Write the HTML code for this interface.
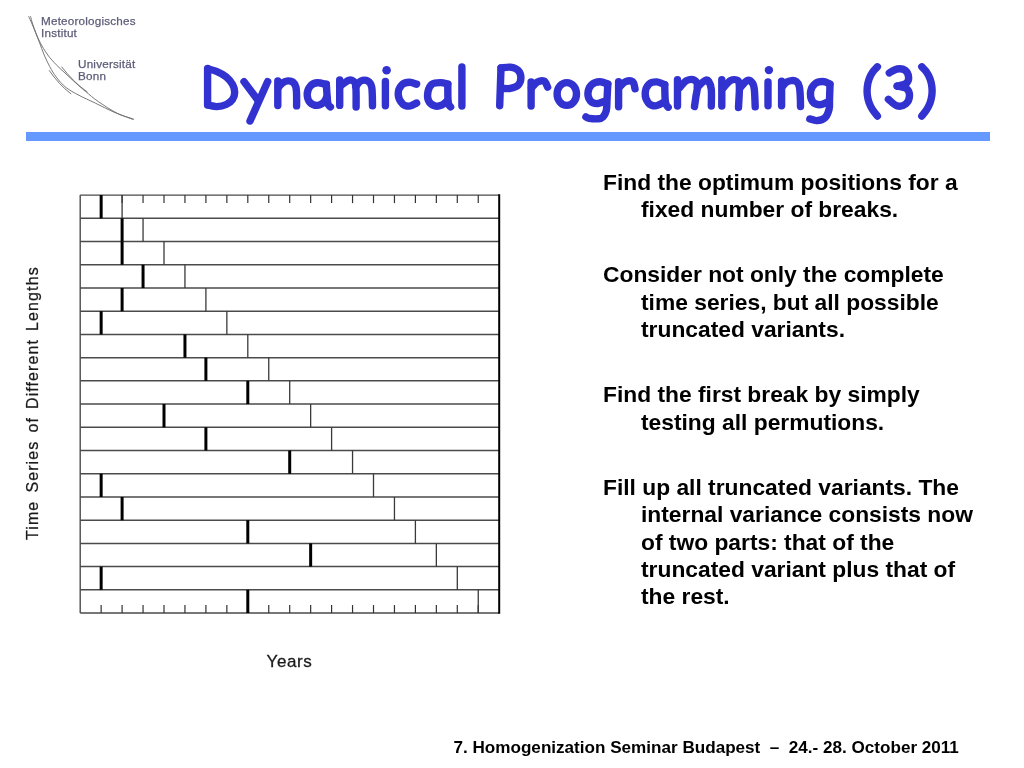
<!DOCTYPE html>
<html><head><meta charset="utf-8">
<style>
html,body{margin:0;padding:0;background:#fff;}
body{width:1024px;height:768px;position:relative;overflow:hidden;font-family:"Liberation Sans",sans-serif;}
.a{position:absolute;white-space:nowrap;}
.logo{color:#5c5c78;-webkit-text-stroke:0.25px #5c5c78;font-size:11.7px;line-height:12.2px;letter-spacing:0.2px;will-change:transform;}
.title{top:53.2px;font-size:63px;line-height:70px;font-weight:bold;color:#3333cc;transform-origin:0 0;}
.rule{left:25.7px;top:132.1px;width:964.3px;height:8.6px;background:#6699ff;}
.p{font-size:22.8px;line-height:27.3px;font-weight:bold;color:#000;left:603px;padding-left:38px;text-indent:-38px;}
.foot{left:453.5px;top:737.5px;font-size:17.1px;line-height:20px;font-weight:bold;color:#000;}
.ylab{font-size:16px;line-height:18px;color:#1a1a1a;-webkit-text-stroke:0.25px #1a1a1a;letter-spacing:1.1px;word-spacing:2.5px;transform-origin:0 0;transform:rotate(-90deg);}
.years{left:266.5px;top:653.2px;font-size:17px;line-height:18px;color:#1a1a1a;letter-spacing:0.6px;-webkit-text-stroke:0.3px #1a1a1a;}
</style></head><body>
<div class="a logo" style="left:41.4px;top:14.5px;">Meteorologisches<br>Institut</div>
<div class="a logo" style="left:77.8px;top:57.5px;">Universität<br>Bonn</div>
<svg width="1024" height="768" style="position:absolute;left:0;top:0">
<g fill="none" stroke="#6a6a6a" stroke-width="0.9">
<path d="M28.6,16.2 C29.2,17.7 30.8,20.8 32.5,25.0 C34.2,29.2 37.0,36.3 39.0,41.3 C41.0,46.3 42.4,50.8 44.2,55.0 C46.0,59.2 47.8,63.0 49.8,66.7 C51.8,70.4 53.6,73.6 56.3,77.1 C59.0,80.6 62.2,84.5 66.0,87.5 C69.8,90.5 74.1,92.7 79.0,95.3 C83.9,97.9 89.5,100.3 95.3,103.1 C101.1,105.9 107.4,109.3 113.8,112.1 C120.2,114.9 130.4,118.4 133.7,119.7"/>
<path d="M30.5,16.2 C30.9,17.7 31.5,20.8 33.0,25.0 C34.5,29.2 37.0,36.3 39.5,41.3 C42.0,46.3 45.0,51.1 47.8,55.0 C50.6,58.9 53.3,61.6 56.3,64.8 C59.3,68.0 62.8,70.9 66.0,73.9 C69.2,76.9 72.5,80.1 75.8,83.0 C79.0,85.9 81.7,88.3 85.5,91.4 C89.3,94.5 93.3,98.2 98.6,101.8 C103.9,105.4 111.5,110.4 117.3,113.3 C123.1,116.2 131.0,118.1 133.7,119.1"/>
<path d="M49.1,70.3 C56,80 62,87 71.2,94"/>
<path d="M61.5,66.7 C69,76 77,85 87.5,92.1"/>
</g>
</svg>
<svg width="1024" height="140" style="position:absolute;left:0;top:0">
<g fill="none" stroke="#3232d0" stroke-width="7.4" stroke-linecap="round" stroke-linejoin="round">
<path d="M207.6,68.5 L207.6,105.0"/>
<path d="M208.0,68.9 C209.4,69.3 213.5,70.1 216.5,71.4 C219.5,72.7 223.5,74.7 226.2,76.9 C228.9,79.1 231.2,82.0 232.6,84.6 C234.0,87.1 234.7,89.7 234.7,92.2 C234.7,94.7 234.0,97.4 232.6,99.4 C231.2,101.5 228.8,103.3 226.2,104.5 C223.6,105.7 219.9,106.5 216.9,106.6 C213.9,106.7 209.5,105.2 208.0,104.9"/>
<path d="M244.0,81.6 L257.6,99.8"/>
<path d="M267.7,81.6 L250.0,121.0"/>
<path d="M277.8,80.9 L277.8,105.5"/>
<path d="M278.6,87.2 C279.3,86.4 281.4,83.6 283.0,82.6 C284.6,81.5 286.4,81.0 288.0,80.9 C289.6,80.8 291.5,81.0 292.8,82.0 C294.1,83.0 295.2,84.6 295.8,86.8 C296.4,89.0 296.5,91.8 296.6,95.0 C296.7,98.2 296.6,104.1 296.6,105.9"/>
<path d="M326.3,84.1 C326.5,86.9 327.1,97.5 327.5,101.0 C327.9,104.5 328.1,104.2 328.6,105.2 C329.1,106.2 330.1,106.6 330.4,106.9"/>
<path d="M326.3,84.5 C324.8,84.2 319.7,82.5 317.0,82.8 C314.3,83.1 311.6,84.5 310.0,86.5 C308.4,88.5 307.2,91.8 307.2,94.5 C307.2,97.2 308.4,100.7 310.0,102.5 C311.6,104.3 314.8,105.4 317.0,105.4 C319.2,105.4 321.9,103.9 323.5,102.5 C325.1,101.1 326.2,97.9 326.8,97.0"/>
<path d="M339.7,80.0 L339.7,105.4"/>
<path d="M341.2,85.4 C342.4,84.6 346.3,81.2 348.3,80.5 C350.3,79.8 351.8,80.0 353.0,80.9 C354.2,81.8 355.3,81.7 355.8,86.0 C356.3,90.3 356.1,103.5 356.1,107.0"/>
<path d="M355.8,86.5 C356.6,85.6 358.8,81.9 360.8,81.0 C362.8,80.1 366.0,80.0 367.8,81.0 C369.6,82.0 370.9,82.9 371.7,87.0 C372.5,91.1 372.4,102.6 372.5,105.8"/>
<path d="M385.4,81.5 L385.4,105.8"/>
<path d="M416.6,84.2 C415.4,83.9 412.0,82.2 409.5,82.3 C407.0,82.4 403.6,83.0 401.7,85.0 C399.8,87.0 398.1,91.3 398.2,94.4 C398.3,97.5 400.6,101.8 402.5,103.8 C404.4,105.7 407.1,106.2 409.5,106.1 C411.9,106.0 415.4,103.5 416.6,103.0"/>
<path d="M447.8,84.2 C447.8,86.8 447.8,96.6 448.0,100.0 C448.2,103.4 448.4,103.3 448.8,104.5 C449.2,105.7 450.3,106.5 450.6,106.9"/>
<path d="M447.8,84.2 C446.6,83.9 443.4,82.6 440.8,82.6 C438.2,82.6 434.3,82.5 432.2,84.0 C430.1,85.5 428.6,88.7 428.0,91.5 C427.4,94.3 427.4,98.2 428.5,100.6 C429.6,103.0 432.3,105.0 434.5,105.8 C436.7,106.6 439.5,106.1 441.6,105.2 C443.8,104.3 446.4,101.4 447.4,100.6"/>
<path d="M461.9,67.0 L461.9,106.1"/>
<path d="M501.0,68.0 L499.7,105.7"/>
<path d="M501.0,68.0 C502.6,67.9 507.5,66.8 510.3,67.2 C513.1,67.6 516.1,68.4 517.9,70.2 C519.7,72.0 520.9,75.3 520.9,77.8 C520.9,80.3 519.7,83.6 517.9,85.4 C516.1,87.2 512.8,87.9 510.3,88.4 C507.8,88.9 504.0,88.4 502.7,88.4"/>
<path d="M531.1,82.0 L531.1,106.1"/>
<path d="M531.5,87.9 C532.5,86.9 535.3,83.1 537.4,82.0 C539.5,80.9 542.5,80.4 544.2,81.2 C545.9,82.0 547.0,86.1 547.6,87.1"/>
<path d="M607.8,84.1 C607.7,86.8 607.2,95.6 607.0,100.0 C606.8,104.4 607.0,107.8 606.3,110.6 C605.6,113.4 604.3,115.6 603.0,117.0 C601.7,118.4 600.7,118.6 598.4,118.8 C596.1,119.0 591.2,118.7 589.1,118.4 C587.0,118.1 586.4,117.2 585.9,116.9"/>
<path d="M607.8,84.1 C606.5,83.7 602.7,81.6 600.0,81.7 C597.3,81.8 593.4,82.8 591.4,84.8 C589.4,86.8 588.0,90.7 587.9,93.4 C587.8,96.1 589.1,99.5 590.6,101.2 C592.1,103.0 594.5,103.6 596.9,103.6 C599.2,103.6 603.4,101.6 604.7,101.2"/>
<path d="M618.6,81.7 L618.6,106.7"/>
<path d="M619.4,87.2 C620.4,86.3 623.4,82.6 625.6,81.7 C627.8,80.8 631.1,80.5 632.7,81.7 C634.3,82.9 634.6,87.6 635.0,88.8"/>
<path d="M664.7,84.8 C664.8,87.3 664.9,96.7 665.2,100.0 C665.5,103.3 665.8,103.6 666.3,104.8 C666.8,106.0 667.9,106.8 668.2,107.2"/>
<path d="M664.7,84.8 C663.4,84.3 659.5,82.0 656.9,81.9 C654.3,81.8 651.0,82.2 649.0,84.1 C647.0,86.0 645.3,90.3 645.2,93.4 C645.1,96.5 646.6,100.7 648.3,102.8 C650.0,104.9 652.8,105.9 655.3,105.9 C657.8,105.9 661.8,103.3 663.1,102.8"/>
<path d="M677.5,79.7 L677.5,106.0"/>
<path d="M679.7,87.6 C680.9,86.4 684.2,81.7 686.7,80.5 C689.2,79.3 692.8,79.3 694.6,80.2 C696.4,81.1 697.3,83.4 697.5,86.0 C697.7,88.6 696.5,92.6 696.0,96.0 C695.5,99.4 694.8,104.8 694.5,106.5"/>
<path d="M697.5,87.0 C698.8,85.9 703.2,81.4 705.1,80.5 C707.0,79.6 707.7,79.9 708.7,81.4 C709.7,82.9 710.9,85.2 711.3,89.3 C711.7,93.4 711.3,103.2 711.3,106.0"/>
<path d="M721.8,79.7 L721.8,106.0"/>
<path d="M723.6,87.6 C724.8,86.4 728.2,81.7 730.6,80.5 C733.0,79.3 736.2,79.3 737.7,80.5 C739.2,81.7 739.3,83.1 739.4,87.6 C739.5,92.1 738.6,104.2 738.5,107.5"/>
<path d="M740.3,87.6 C741.5,86.4 745.2,81.2 747.3,80.5 C749.3,79.8 751.4,81.6 752.6,83.2 C753.8,84.8 754.0,86.2 754.4,90.2 C754.8,94.2 755.1,104.1 755.2,106.9"/>
<path d="M768.0,82.0 L768.0,105.7"/>
<path d="M781.6,81.1 L781.6,105.7"/>
<path d="M782.5,86.4 C783.2,85.7 785.0,83.2 786.5,82.2 C788.0,81.2 789.8,80.7 791.5,80.6 C793.2,80.5 795.2,80.6 796.5,81.6 C797.8,82.6 798.7,84.4 799.3,86.6 C799.9,88.8 800.0,91.7 800.2,95.0 C800.4,98.3 800.5,104.7 800.5,106.6"/>
<path d="M830.0,85.5 C829.9,87.9 829.6,96.0 829.5,100.0 C829.4,104.0 829.9,106.2 829.1,109.2 C828.3,112.2 826.8,116.1 824.7,118.0 C822.7,119.9 819.3,120.4 816.8,120.6 C814.3,120.8 811.0,119.2 809.8,118.9"/>
<path d="M830.0,84.0 C828.8,83.6 825.4,81.5 822.9,81.5 C820.4,81.5 817.0,82.0 815.0,83.7 C813.0,85.4 811.0,88.7 810.6,91.6 C810.2,94.5 810.9,99.1 812.4,101.3 C813.9,103.5 816.9,104.6 819.4,104.8 C821.9,105.0 826.0,102.6 827.3,102.2"/>
<path d="M877.4,66.8 C876.6,67.7 874.0,70.0 872.6,72.1 C871.2,74.1 870.0,76.6 869.1,79.1 C868.2,81.6 867.6,84.4 867.3,87.0 C867.0,89.6 867.0,92.3 867.3,94.9 C867.6,97.5 868.2,100.3 869.1,102.8 C870.0,105.3 871.2,107.6 872.6,109.8 C874.0,112.0 876.6,115.0 877.4,116.0"/>
<path d="M889.3,72.9 C890.6,72.2 894.6,69.4 897.2,69.0 C899.8,68.6 903.2,68.9 905.1,70.3 C907.0,71.7 908.5,75.1 908.6,77.3 C908.8,79.5 907.9,82.0 906.0,83.5 C904.1,85.0 898.7,85.7 897.2,86.1"/>
<path d="M897.2,86.1 C898.8,86.5 904.8,87.2 906.8,88.8 C908.8,90.4 909.6,93.3 909.5,95.8 C909.4,98.3 908.0,102.0 906.0,103.7 C904.0,105.4 900.1,106.6 897.2,105.9 C894.3,105.2 889.9,100.4 888.4,99.3"/>
<path d="M921.8,66.8 C922.6,67.7 925.2,70.0 926.6,72.1 C928.0,74.1 929.2,76.6 930.1,79.1 C931.0,81.6 931.6,84.4 931.9,87.0 C932.2,89.6 932.2,92.3 931.9,94.9 C931.6,97.5 931.0,100.3 930.1,102.8 C929.2,105.3 928.0,107.6 926.6,109.8 C925.2,112.0 922.6,115.0 921.8,116.0"/>
<ellipse cx="566.8" cy="94" rx="9.7" ry="11.4"/>
</g>
<g fill="#3232d0"><circle cx="386.6" cy="70.2" r="4.3"/><circle cx="768.9" cy="70.1" r="4.2"/></g>
</svg>
<div class="a rule"></div>
<div class="a p" style="top:168.5px;">Find the optimum positions for a<br>fixed number of breaks.</div>
<div class="a p" style="top:261.3px;">Consider not only the complete<br>time series, but all possible<br>truncated variants.</div>
<div class="a p" style="top:381.3px;">Find the first break by simply<br>testing all permutions.</div>
<div class="a p" style="top:474.1px;">Fill up all truncated variants. The<br>internal variance consists now<br>of two parts: that of the<br>truncated variant plus that of<br>the rest.</div>
<div class="a foot">7. Homogenization Seminar Budapest &nbsp;&ndash;&nbsp; 24.- 28. October 2011</div>
<div class="a ylab" style="left:24px;top:540px;">Time Series of Different Lengths</div>
<div class="a years">Years</div>
<svg width="1024" height="768" style="position:absolute;left:0;top:0">
<line x1="80.20" y1="195.10" x2="499.20" y2="195.10" stroke="#4a4a4a" stroke-width="1.3"/>
<line x1="80.20" y1="218.32" x2="499.20" y2="218.32" stroke="#4a4a4a" stroke-width="1.5"/>
<line x1="80.20" y1="241.54" x2="499.20" y2="241.54" stroke="#4a4a4a" stroke-width="1.5"/>
<line x1="80.20" y1="264.76" x2="499.20" y2="264.76" stroke="#4a4a4a" stroke-width="1.5"/>
<line x1="80.20" y1="287.98" x2="499.20" y2="287.98" stroke="#4a4a4a" stroke-width="1.5"/>
<line x1="80.20" y1="311.20" x2="499.20" y2="311.20" stroke="#4a4a4a" stroke-width="1.5"/>
<line x1="80.20" y1="334.42" x2="499.20" y2="334.42" stroke="#4a4a4a" stroke-width="1.5"/>
<line x1="80.20" y1="357.64" x2="499.20" y2="357.64" stroke="#4a4a4a" stroke-width="1.5"/>
<line x1="80.20" y1="380.86" x2="499.20" y2="380.86" stroke="#4a4a4a" stroke-width="1.5"/>
<line x1="80.20" y1="404.08" x2="499.20" y2="404.08" stroke="#4a4a4a" stroke-width="1.5"/>
<line x1="80.20" y1="427.30" x2="499.20" y2="427.30" stroke="#4a4a4a" stroke-width="1.5"/>
<line x1="80.20" y1="450.52" x2="499.20" y2="450.52" stroke="#4a4a4a" stroke-width="1.5"/>
<line x1="80.20" y1="473.74" x2="499.20" y2="473.74" stroke="#4a4a4a" stroke-width="1.5"/>
<line x1="80.20" y1="496.96" x2="499.20" y2="496.96" stroke="#4a4a4a" stroke-width="1.5"/>
<line x1="80.20" y1="520.18" x2="499.20" y2="520.18" stroke="#4a4a4a" stroke-width="1.5"/>
<line x1="80.20" y1="543.40" x2="499.20" y2="543.40" stroke="#4a4a4a" stroke-width="1.5"/>
<line x1="80.20" y1="566.62" x2="499.20" y2="566.62" stroke="#4a4a4a" stroke-width="1.5"/>
<line x1="80.20" y1="589.84" x2="499.20" y2="589.84" stroke="#4a4a4a" stroke-width="1.5"/>
<line x1="80.20" y1="613.06" x2="499.20" y2="613.06" stroke="#4a4a4a" stroke-width="1.5"/>
<line x1="80.20" y1="195.10" x2="80.20" y2="613.06" stroke="#4a4a4a" stroke-width="1.4"/>
<line x1="499.20" y1="194.30" x2="499.20" y2="613.86" stroke="#000" stroke-width="2"/>
<line x1="101.15" y1="195.10" x2="101.15" y2="203.10" stroke="#333" stroke-width="1.2"/>
<line x1="101.15" y1="605.06" x2="101.15" y2="613.06" stroke="#333" stroke-width="1.2"/>
<line x1="122.10" y1="195.10" x2="122.10" y2="203.10" stroke="#333" stroke-width="1.2"/>
<line x1="122.10" y1="605.06" x2="122.10" y2="613.06" stroke="#333" stroke-width="1.2"/>
<line x1="143.05" y1="195.10" x2="143.05" y2="203.10" stroke="#333" stroke-width="1.2"/>
<line x1="143.05" y1="605.06" x2="143.05" y2="613.06" stroke="#333" stroke-width="1.2"/>
<line x1="164.00" y1="195.10" x2="164.00" y2="203.10" stroke="#333" stroke-width="1.2"/>
<line x1="164.00" y1="605.06" x2="164.00" y2="613.06" stroke="#333" stroke-width="1.2"/>
<line x1="184.95" y1="195.10" x2="184.95" y2="203.10" stroke="#333" stroke-width="1.2"/>
<line x1="184.95" y1="605.06" x2="184.95" y2="613.06" stroke="#333" stroke-width="1.2"/>
<line x1="205.90" y1="195.10" x2="205.90" y2="203.10" stroke="#333" stroke-width="1.2"/>
<line x1="205.90" y1="605.06" x2="205.90" y2="613.06" stroke="#333" stroke-width="1.2"/>
<line x1="226.85" y1="195.10" x2="226.85" y2="203.10" stroke="#333" stroke-width="1.2"/>
<line x1="226.85" y1="605.06" x2="226.85" y2="613.06" stroke="#333" stroke-width="1.2"/>
<line x1="247.80" y1="195.10" x2="247.80" y2="203.10" stroke="#333" stroke-width="1.2"/>
<line x1="247.80" y1="605.06" x2="247.80" y2="613.06" stroke="#333" stroke-width="1.2"/>
<line x1="268.75" y1="195.10" x2="268.75" y2="203.10" stroke="#333" stroke-width="1.2"/>
<line x1="268.75" y1="605.06" x2="268.75" y2="613.06" stroke="#333" stroke-width="1.2"/>
<line x1="289.70" y1="195.10" x2="289.70" y2="203.10" stroke="#333" stroke-width="1.2"/>
<line x1="289.70" y1="605.06" x2="289.70" y2="613.06" stroke="#333" stroke-width="1.2"/>
<line x1="310.65" y1="195.10" x2="310.65" y2="203.10" stroke="#333" stroke-width="1.2"/>
<line x1="310.65" y1="605.06" x2="310.65" y2="613.06" stroke="#333" stroke-width="1.2"/>
<line x1="331.60" y1="195.10" x2="331.60" y2="203.10" stroke="#333" stroke-width="1.2"/>
<line x1="331.60" y1="605.06" x2="331.60" y2="613.06" stroke="#333" stroke-width="1.2"/>
<line x1="352.55" y1="195.10" x2="352.55" y2="203.10" stroke="#333" stroke-width="1.2"/>
<line x1="352.55" y1="605.06" x2="352.55" y2="613.06" stroke="#333" stroke-width="1.2"/>
<line x1="373.50" y1="195.10" x2="373.50" y2="203.10" stroke="#333" stroke-width="1.2"/>
<line x1="373.50" y1="605.06" x2="373.50" y2="613.06" stroke="#333" stroke-width="1.2"/>
<line x1="394.45" y1="195.10" x2="394.45" y2="203.10" stroke="#333" stroke-width="1.2"/>
<line x1="394.45" y1="605.06" x2="394.45" y2="613.06" stroke="#333" stroke-width="1.2"/>
<line x1="415.40" y1="195.10" x2="415.40" y2="203.10" stroke="#333" stroke-width="1.2"/>
<line x1="415.40" y1="605.06" x2="415.40" y2="613.06" stroke="#333" stroke-width="1.2"/>
<line x1="436.35" y1="195.10" x2="436.35" y2="203.10" stroke="#333" stroke-width="1.2"/>
<line x1="436.35" y1="605.06" x2="436.35" y2="613.06" stroke="#333" stroke-width="1.2"/>
<line x1="457.30" y1="195.10" x2="457.30" y2="203.10" stroke="#333" stroke-width="1.2"/>
<line x1="457.30" y1="605.06" x2="457.30" y2="613.06" stroke="#333" stroke-width="1.2"/>
<line x1="478.25" y1="195.10" x2="478.25" y2="203.10" stroke="#333" stroke-width="1.2"/>
<line x1="478.25" y1="605.06" x2="478.25" y2="613.06" stroke="#333" stroke-width="1.2"/>
<line x1="122.10" y1="195.10" x2="122.10" y2="218.32" stroke="#3a3a3a" stroke-width="1.3"/>
<line x1="101.15" y1="195.10" x2="101.15" y2="218.32" stroke="#000" stroke-width="3"/>
<line x1="143.05" y1="218.32" x2="143.05" y2="241.54" stroke="#3a3a3a" stroke-width="1.3"/>
<line x1="122.10" y1="218.32" x2="122.10" y2="241.54" stroke="#000" stroke-width="3"/>
<line x1="164.00" y1="241.54" x2="164.00" y2="264.76" stroke="#3a3a3a" stroke-width="1.3"/>
<line x1="122.10" y1="241.54" x2="122.10" y2="264.76" stroke="#000" stroke-width="3"/>
<line x1="184.95" y1="264.76" x2="184.95" y2="287.98" stroke="#3a3a3a" stroke-width="1.3"/>
<line x1="143.05" y1="264.76" x2="143.05" y2="287.98" stroke="#000" stroke-width="3"/>
<line x1="205.90" y1="287.98" x2="205.90" y2="311.20" stroke="#3a3a3a" stroke-width="1.3"/>
<line x1="122.10" y1="287.98" x2="122.10" y2="311.20" stroke="#000" stroke-width="3"/>
<line x1="226.85" y1="311.20" x2="226.85" y2="334.42" stroke="#3a3a3a" stroke-width="1.3"/>
<line x1="101.15" y1="311.20" x2="101.15" y2="334.42" stroke="#000" stroke-width="3"/>
<line x1="247.80" y1="334.42" x2="247.80" y2="357.64" stroke="#3a3a3a" stroke-width="1.3"/>
<line x1="184.95" y1="334.42" x2="184.95" y2="357.64" stroke="#000" stroke-width="3"/>
<line x1="268.75" y1="357.64" x2="268.75" y2="380.86" stroke="#3a3a3a" stroke-width="1.3"/>
<line x1="205.90" y1="357.64" x2="205.90" y2="380.86" stroke="#000" stroke-width="3"/>
<line x1="289.70" y1="380.86" x2="289.70" y2="404.08" stroke="#3a3a3a" stroke-width="1.3"/>
<line x1="247.80" y1="380.86" x2="247.80" y2="404.08" stroke="#000" stroke-width="3"/>
<line x1="310.65" y1="404.08" x2="310.65" y2="427.30" stroke="#3a3a3a" stroke-width="1.3"/>
<line x1="164.00" y1="404.08" x2="164.00" y2="427.30" stroke="#000" stroke-width="3"/>
<line x1="331.60" y1="427.30" x2="331.60" y2="450.52" stroke="#3a3a3a" stroke-width="1.3"/>
<line x1="205.90" y1="427.30" x2="205.90" y2="450.52" stroke="#000" stroke-width="3"/>
<line x1="352.55" y1="450.52" x2="352.55" y2="473.74" stroke="#3a3a3a" stroke-width="1.3"/>
<line x1="289.70" y1="450.52" x2="289.70" y2="473.74" stroke="#000" stroke-width="3"/>
<line x1="373.50" y1="473.74" x2="373.50" y2="496.96" stroke="#3a3a3a" stroke-width="1.3"/>
<line x1="101.15" y1="473.74" x2="101.15" y2="496.96" stroke="#000" stroke-width="3"/>
<line x1="394.45" y1="496.96" x2="394.45" y2="520.18" stroke="#3a3a3a" stroke-width="1.3"/>
<line x1="122.10" y1="496.96" x2="122.10" y2="520.18" stroke="#000" stroke-width="3"/>
<line x1="415.40" y1="520.18" x2="415.40" y2="543.40" stroke="#3a3a3a" stroke-width="1.3"/>
<line x1="247.80" y1="520.18" x2="247.80" y2="543.40" stroke="#000" stroke-width="3"/>
<line x1="436.35" y1="543.40" x2="436.35" y2="566.62" stroke="#3a3a3a" stroke-width="1.3"/>
<line x1="310.65" y1="543.40" x2="310.65" y2="566.62" stroke="#000" stroke-width="3"/>
<line x1="457.30" y1="566.62" x2="457.30" y2="589.84" stroke="#3a3a3a" stroke-width="1.3"/>
<line x1="101.15" y1="566.62" x2="101.15" y2="589.84" stroke="#000" stroke-width="3"/>
<line x1="478.25" y1="589.84" x2="478.25" y2="613.06" stroke="#3a3a3a" stroke-width="1.3"/>
<line x1="247.80" y1="589.84" x2="247.80" y2="613.06" stroke="#000" stroke-width="3"/>
</svg>
</body></html>
